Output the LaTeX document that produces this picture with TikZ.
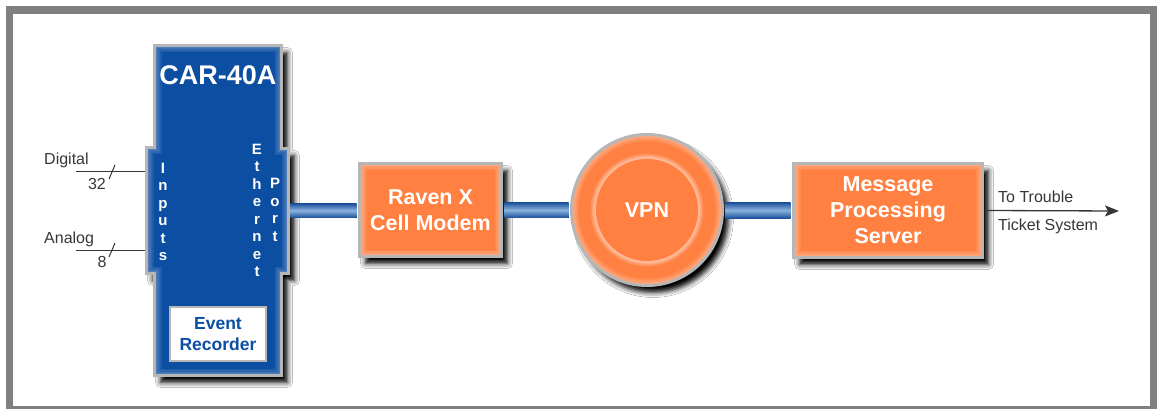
\documentclass[tikz,border=0pt]{standalone}
\usepackage{fontspec}
\setmainfont{Liberation Sans}
\usetikzlibrary{shadows.blur,calc,arrows.meta}
\definecolor{carblue}{RGB}{11,78,162}
\definecolor{orng}{RGB}{255,128,64}
\definecolor{bordergray}{RGB}{182,182,182}
\definecolor{framegray}{RGB}{128,128,128}
\definecolor{pipedark}{RGB}{28,82,155}
\definecolor{pipelight}{RGB}{140,178,222}
\definecolor{txtgray}{RGB}{55,55,55}
\def\carshape{(154.5,45.5) -- (281.5,45.5) -- (281.5,148.5) -- (288.5,148.5) -- (288.5,273.5) -- (281.5,273.5) -- (281.5,375.5) -- (154.5,375.5) -- (154.5,273.5) -- (146.5,273.5) -- (146.5,147.5) -- (154.5,147.5) -- cycle}
\tikzset{
  shd/.style={blur shadow={shadow xshift=6pt, shadow yshift=-7pt, shadow blur radius=5pt, shadow opacity=100}},
  glowrect/.style={path picture={
      \foreach \w in {14,11,8,5,3}
        \draw[white, opacity=.09, line width=\w pt] (path picture bounding box.south west) rectangle (path picture bounding box.north east);}},
  obox/.style={shd, fill=orng, draw=bordergray, line width=3pt, inner sep=0pt, text=white,
    font=\bfseries\fontsize{21.5}{26}\selectfont, align=center, glowrect},
  pipe/.style={top color=pipedark, bottom color=pipedark, middle color=pipelight},
  sigline/.style={draw=txtgray, line width=1pt},
  lbl/.style={text=txtgray, font=\fontsize{16}{19}\selectfont, inner sep=0pt},
  vtext/.style={text=white, font=\bfseries\fontsize{15}{17.5}\selectfont, align=center, inner sep=0pt},
  ghost/.style={inner sep=0pt, outer sep=0pt}
}
\begin{document}
\begin{tikzpicture}[x=1pt, y=-1pt]
\useasboundingbox (0,0) rectangle (1157,409);
\fill[white] (0,0) rectangle (1157,409);
\draw[framegray, line width=7.5pt] (9.5,10) rectangle (1153.5,409.5);

% CAR-40A body
\path[shd, fill=carblue] \carshape;
\begin{scope}
  \clip \carshape;
  \foreach \w in {14,11,8,5,3}
    \draw[white, opacity=.08, line width=\w pt] \carshape;
\end{scope}
\draw[bordergray, line width=3pt, line join=miter] \carshape;
\node[ghost, minimum width=8pt, minimum height=129pt] (carL) at (149,210.5) {};
\node[ghost, minimum width=7pt, minimum height=128pt] (carR) at (286.5,211) {};
\node[text=white, font=\bfseries\fontsize{27}{30}\selectfont, inner sep=0pt] (cartitle) at (218,75) {CAR-40A};
\node[vtext] (inputs) at (163,212) {I\\n\\p\\u\\t\\s};
\node[vtext] (ether) at (257,210.5) {E\\t\\h\\e\\r\\n\\e\\t};
\node[vtext] (port) at (275,210) {P\\o\\r\\t};
\node[fill=white, draw=bordergray, line width=2pt, minimum width=96pt, minimum height=54pt, inner sep=0pt,
  text=carblue, font=\bfseries\fontsize{17.5}{20.5}\selectfont, align=center] (event) at (218,334) {Event\\Recorder};

% inputs
\coordinate (dig) at (76,172);
\coordinate (ana) at (76,250);
\draw[sigline] (dig) -- (dig -| carL.west);
\draw[sigline] (ana) -- (ana -| carL.west);
\draw[sigline] ($(dig)+(33,7)$) -- ($(dig)+(39,-7)$);
\draw[sigline] ($(ana)+(33,7)$) -- ($(ana)+(39,-7)$);
\node[lbl, anchor=west] (diglbl) at (44,160) {Digital};
\node[lbl] (n32) at (97,184) {32};
\node[lbl, anchor=west] (analbl) at (44,239) {Analog};
\node[lbl] (n8) at (102,262) {8};

% orange nodes
\node[obox, minimum width=142pt, minimum height=93pt] (raven) at (430.5,210) {Raven X\\Cell Modem};
\node[obox, minimum width=189pt, minimum height=94pt] (msg) at (888,210.5) {Message\\Processing\\Server};
\node[circle, shd, fill=orng, draw=bordergray, line width=3pt, minimum size=151pt, inner sep=0pt,
  path picture={
    \foreach \w in {14,11,8,5,3}
      \draw[white, opacity=.09, line width=\w pt] (path picture bounding box.center) circle (75.5);}] (vpn) at (647,210) {};
\foreach \w in {9,6,4,2}
  \draw[white, opacity=.14, line width=\w pt] (vpn.center) circle (52);
\node[circle, fill=orng, minimum size=102pt, inner sep=0pt, text=white, font=\bfseries\fontsize{21.5}{26}\selectfont] (vpnin) at (vpn.center) {VPN};

% pipes
\fill[pipe] ($(carR.east)+(0,-7.5)$) rectangle ($(raven.west)+(-1.5,7.5)$);
\fill[pipe] ($(raven.east)+(1.5,-7.5)$) rectangle ($(vpn.west)+(-1.5,7.5)$);
\fill[pipe] ($(vpn.east)+(1.5,-7.5)$) rectangle ($(msg.west)+(-1.5,7.5)$);

% output
\coordinate (tts) at (1119,211);
\draw[txtgray, line width=1.3pt, -{Stealth[length=14pt, width=11pt, inset=3pt]}] ($(msg.east)+(1.5,0)$) -- (tts);
\node[lbl, anchor=west] (tt1) at (998,197) {To Trouble};
\node[lbl, anchor=west] (tt2) at (998,226) {Ticket System};
\end{tikzpicture}
\end{document}
